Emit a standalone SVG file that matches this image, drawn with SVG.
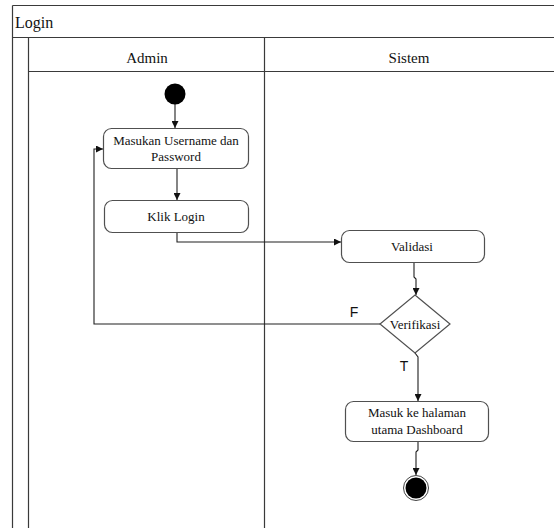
<svg xmlns="http://www.w3.org/2000/svg" width="554" height="528" viewBox="0 0 554 528">
  <defs>
    <style>
      .lane { fill: none; stroke: #3a3a3a; stroke-width: 1.2; }
      .node { fill: #ffffff; stroke: #505050; stroke-width: 1.2; }
      .conn { fill: none; stroke: #202020; stroke-width: 1.1; }
      .t { font-family: "Liberation Serif", "Times New Roman", serif; fill: #111; text-anchor: middle; }
      .s { font-family: "Liberation Sans", Arial, sans-serif; fill: #111; text-anchor: middle; font-size: 14px; }
    </style>
    <marker id="arr" viewBox="0 0 10 10" refX="10" refY="5" markerWidth="7" markerHeight="7" orient="auto" markerUnits="userSpaceOnUse">
      <path d="M0,0 L10,5 L0,10 z" fill="#111"/>
    </marker>
  </defs>
  <rect width="554" height="528" fill="#ffffff"/>
  <g id="swimlanes">
    <path class="lane" d="M12.5,5.5 H560 M12.5,5.5 V530 M12.5,37.5 H560 M28.5,37.5 V530 M264.5,37.5 V530 M28.5,71.5 H560"/>
    <text class="t" x="15" y="28" font-size="16" text-anchor="start" style="text-anchor:start">Login</text>
    <text class="t" x="147" y="63" font-size="15">Admin</text>
    <text class="t" x="409" y="63" font-size="15">Sistem</text>
  </g>
  <g id="connectors">
    <path class="conn" d="M175,104 V128" marker-end="url(#arr)"/>
    <path class="conn" d="M177,168 V200" marker-end="url(#arr)"/>
    <path class="conn" d="M177,233 V242 H341" marker-end="url(#arr)"/>
    <path class="conn" d="M414,263 V277 L416,279 V295" marker-end="url(#arr)"/>
    <path class="conn" d="M380,324 H94 V149 H103" marker-end="url(#arr)"/>
    <path class="conn" d="M415,353 L418,357 V401" marker-end="url(#arr)"/>
    <path class="conn" d="M418,442 V450 L416,452 V475" marker-end="url(#arr)"/>
    <text class="s" x="354" y="317">F</text>
    <text class="s" x="404" y="371">T</text>
  </g>
  <g id="start">
    <circle cx="175" cy="94" r="10.5" fill="#000"/>
  </g>
  <g id="masukan">
    <rect class="node" x="103.5" y="128.5" width="145" height="40" rx="8"/>
    <text class="t" x="176" y="145" font-size="13">Masukan Username dan</text>
    <text class="t" x="176" y="161" font-size="13">Password</text>
  </g>
  <g id="klik">
    <rect class="node" x="104.5" y="200.5" width="144" height="32" rx="8"/>
    <text class="t" x="176" y="221" font-size="13">Klik Login</text>
  </g>
  <g id="validasi">
    <rect class="node" x="341.5" y="230.5" width="143" height="32" rx="8"/>
    <text class="t" x="412" y="251" font-size="13">Validasi</text>
  </g>
  <g id="verifikasi">
    <polygon class="node" points="415,295 450,324 415,353 380,324"/>
    <text class="t" x="415" y="328.5" font-size="13">Verifikasi</text>
  </g>
  <g id="dashboard">
    <rect class="node" x="345.5" y="401.5" width="143" height="40" rx="8"/>
    <text class="t" x="417" y="417" font-size="13">Masuk ke halaman</text>
    <text class="t" x="417" y="434" font-size="13">utama Dashboard</text>
  </g>
  <g id="end">
    <circle cx="416" cy="488" r="12.5" fill="#fff" stroke="#444" stroke-width="1"/>
    <circle cx="416" cy="488" r="10.5" fill="#000"/>
  </g>
</svg>
